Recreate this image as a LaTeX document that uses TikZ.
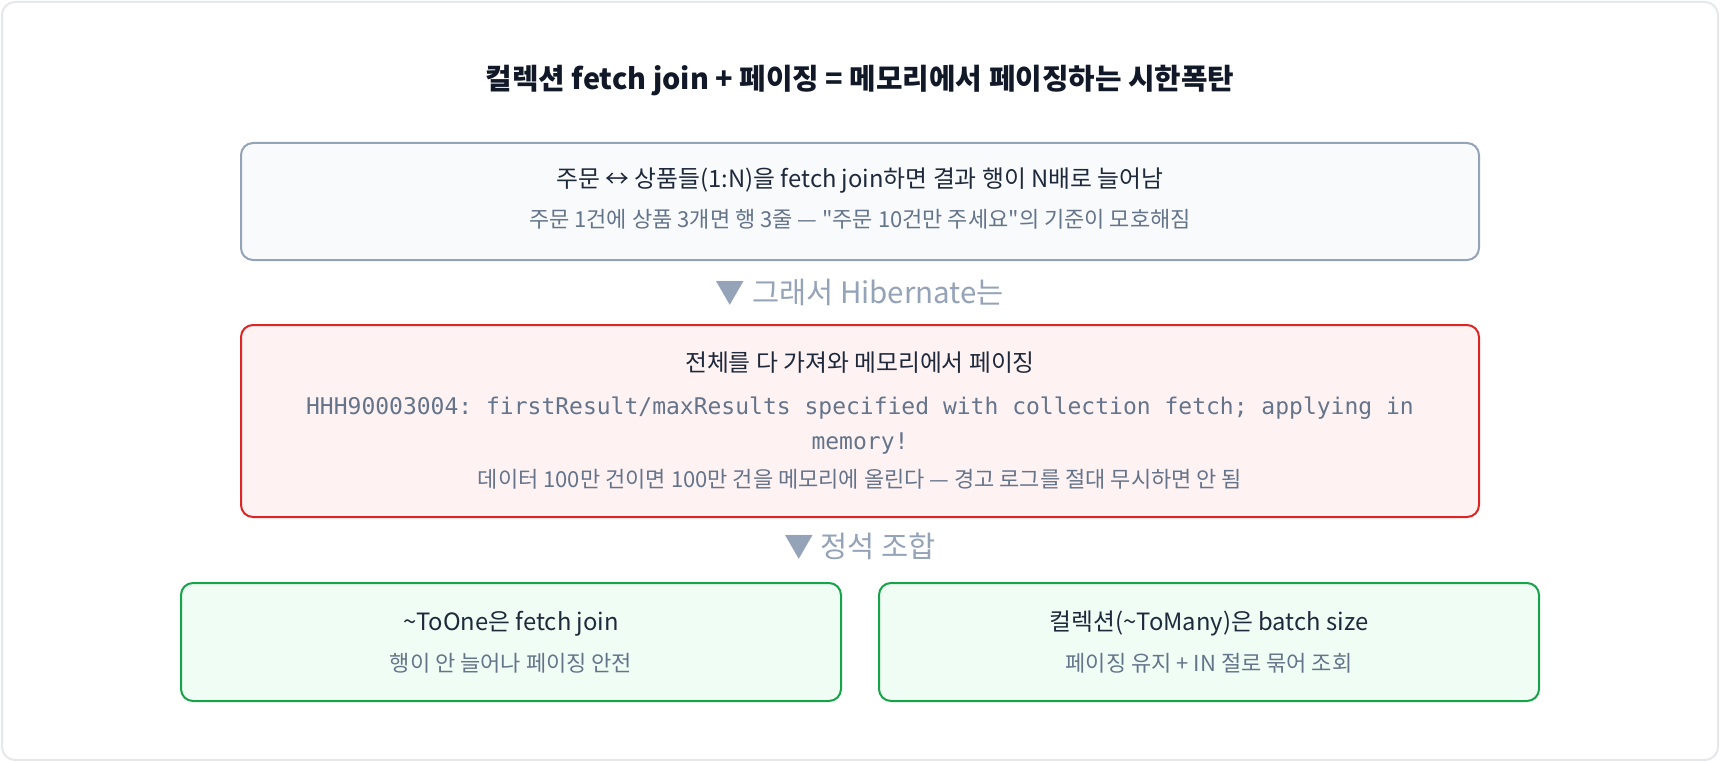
\documentclass[tikz,border=0pt]{standalone}
\usepackage{fontspec}
\setmainfont{Noto Sans CJK KR}[Ligatures=TeXOff]
\newfontfamily\monofont{DejaVu Sans Mono}
\usetikzlibrary{positioning}

\definecolor{framegray}{HTML}{E5E7EB}
\definecolor{titleink}{HTML}{111827}
\definecolor{mainink}{HTML}{1E293B}
\definecolor{subink}{HTML}{64748B}
\definecolor{stepink}{HTML}{94A3B8}
\definecolor{slateline}{HTML}{94A3B8}
\definecolor{slatefill}{HTML}{F8FAFC}
\definecolor{redline}{HTML}{DC2626}
\definecolor{redfill}{HTML}{FEF2F2}
\definecolor{greenline}{HTML}{16A34A}
\definecolor{greenfill}{HTML}{F0FDF4}

\newcommand{\fsz}[1]{\fontsize{#1}{#1}\selectfont}

\begin{document}
\begin{tikzpicture}[x=1pt,y=-1pt,
	every node/.style={inner sep=0pt,outer sep=0pt},
	card/.style={draw,rounded corners=12pt,line width=2pt,minimum width=1238pt},
	halfcard/.style={card,minimum width=660pt,minimum height=118pt,draw=greenline,fill=greenfill},
	headline/.style={anchor=base,text=mainink,font=\fsz{23.8}},
	subline/.style={anchor=base,text=subink,font=\fsz{22}},
	codeline/.style={anchor=base,text=subink,font=\monofont\frenchspacing\fsz{23}},
	stepline/.style={anchor=base,text=stepink,font=\fsz{29.5}}]

%frame
\useasboundingbox (0,0) rectangle (1720,762);
\draw[framegray,line width=2pt,rounded corners=13pt,fill=white] (2,2) rectangle (1718,760);

%title
\node[anchor=base,text=titleink,font=\bfseries\fsz{28.8}] (title) at (860,90)
	{컬렉션 fetch join + 페이징 = 메모리에서 페이징하는 시한폭탄};

%top card
\node[card,draw=slateline,fill=slatefill,minimum height=117pt] (join) at (860,201.5) {};
\node[headline] (joinhead) at (860,188) {주문 ↔ 상품들(1:N)을 fetch join하면 결과 행이 N배로 늘어남};
\node[subline] (joinsub) at (860,227) {주문 1건에 상품 3개면 행 3줄 — "주문 10건만 주세요"의 기준이 모호해짐};

\node[stepline] (step1) at (860,303) {▼ 그래서 Hibernate는};

%middle card
\node[card,draw=redline,fill=redfill,minimum height=192pt] (memory) at (860,421) {};
\node[headline] (memhead) at (860,371) {전체를 다 가져와 메모리에서 페이징};
\node[codeline] (memcode) at (860,414)
	{HHH90003004: firstResult/maxResults specified with collection fetch; applying in};
\node[codeline] (memcode2) at (860,449) {memory!};
\node[subline] (memsub) at (860,487) {데이터 100만 건이면 100만 건을 메모리에 올린다 — 경고 로그를 절대 무시하면 안 됨};

\node[stepline] (step2) at (860,557) {▼ 정석 조합};

%bottom cards
\foreach \name/\x/\head/\sub in {
	toone/511/{\textasciitilde ToOne은 fetch join}/{행이 안 늘어나 페이징 안전},
	tomany/1209/{컬렉션(\textasciitilde ToMany)은 batch size}/{페이징 유지 + IN 절로 묶어 조회}}
{
	\node[halfcard] (\name) at (\x,642) {};
	\node[headline] (\name head) at (\x,630) {\head};
	\node[subline] (\name sub) at (\x,671) {\sub};
}
\end{tikzpicture}
\end{document}
